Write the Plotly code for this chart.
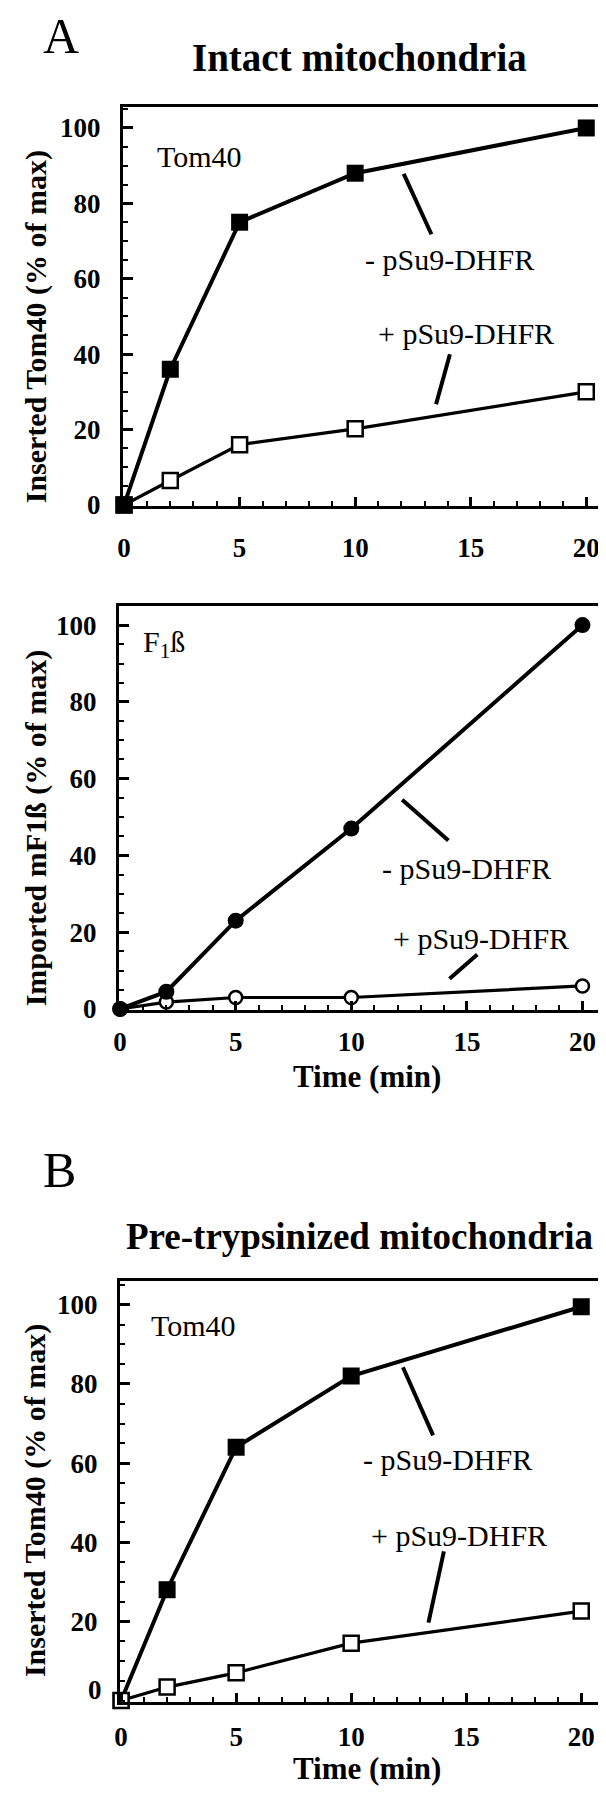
import plotly.graph_objects as go

W, H = 606, 1800
SERIF = "Liberation Serif, 'Times New Roman', Times, serif"
INK = "#000000"

# время инкубации, мин
time_min = [0, 2, 5, 10, 20]

# A: интактные митохондрии
tom40_intact_minus = [0, 36, 75, 88, 100]
tom40_intact_plus = [0, 6.5, 16, 20.2, 30]
f1b_minus = [0, 4.5, 23, 47, 100]
f1b_plus = [0, 1.8, 3, 3, 6]

# B: предобработка трипсином
tom40_tryp_minus = [0, 28, 64, 82, 99.5]
tom40_tryp_plus = [0, 3.4, 7, 14.5, 22.6]

y_tick_vals = [0, 20, 40, 60, 80, 100]
x_tick_vals = [0, 5, 10, 15, 20]

MINUS = "- pSu9-DHFR"
PLUS = "+ pSu9-DHFR"

# рамки панелей в пикселях: (left, right, top, bottom)
PANELS = [
    dict(box=(110, 599, 100, 502), xr=[-0.05, 20.9], yr=[-0.3, 105.5],
         minus=tom40_intact_minus, plus=tom40_intact_plus, sym="square",
         plus_below=True, tag="Tom40", tag_xy=(1.35, 92.5),
         minus_xy=(14.1, 65), plus_xy=(14.8, 45.6),
         minus_lead=((12.1, 87.8), (13.3, 71.8)),
         plus_lead=((14.1, 40), (13.5, 26.7)),
         ytitle="Inserted Tom40 (% of max)", ytitle_y=321,
         xtitle_y=None, xstand=16, hide_y0=False),
    dict(box=(106, 594, 603, 1010), xr=[-0.05, 20.85], yr=[-0.3, 104.9],
         minus=f1b_minus, plus=f1b_plus, sym="circle",
         plus_below=True, tag="F<sub>1</sub>ß", tag_xy=(0.9, 95),
         minus_xy=(15.0, 36.7), plus_xy=(15.6, 18.3),
         minus_lead=((12.2, 54.5), (14.2, 43.9)),
         plus_lead=((15.45, 14.2), (14.25, 7.9)),
         ytitle="Imported mF1ß (% of max)", ytitle_y=826,
         xtitle_y=1077, xstand=5, hide_y0=False),
    dict(box=(107, 595, 1283, 1707), xr=[-0.05, 20.95], yr=[-0.3, 106],
         minus=tom40_tryp_minus, plus=tom40_tryp_plus, sym="square",
         plus_below=False, tag="Tom40", tag_xy=(1.2, 94.7),
         minus_xy=(14.2, 60.9), plus_xy=(14.7, 41.6),
         minus_lead=((12.25, 84.2), (13.56, 67.0)),
         plus_lead=((14.03, 37.7), (13.36, 19.7)),
         ytitle="Inserted Tom40 (% of max)", ytitle_y=1504,
         xtitle_y=1774, xstand=9, hide_y0=True),
]


def fx(px):
    return px / W


def fy(py):
    return 1 - py / H


fig = go.Figure()
annotations, shapes = [], []
tick_font = dict(family=SERIF, size=27, color=INK, weight="bold")
label_font = dict(family=SERIF, size=30, color=INK)

for i, p in enumerate(PANELS, start=1):
    xa, ya = f"x{i}", f"y{i}"
    left, right, top, bottom = p["box"]

    def add_series(vals, filled):
        if p["sym"] == "square":
            size = 17 if filled else 15
        else:
            size = 16 if filled else 13
        fig.add_trace(go.Scatter(
            x=time_min, y=vals, xaxis=xa, yaxis=ya, mode="lines+markers",
            line=dict(color=INK, width=4 if filled else 3.2),
            marker=dict(symbol=p["sym"], size=size,
                        color=INK if filled else "white",
                        line=dict(color=INK, width=0 if filled else 2.5)),
            cliponaxis=False, showlegend=False, hoverinfo="skip"))

    if p["plus_below"]:
        add_series(p["plus"], False)
        add_series(p["minus"], True)
    else:
        add_series(p["minus"], True)
        add_series(p["plus"], False)

    # в панели B подпись «0» поднята над осью — рисуем её отдельно
    yvals = [v for v in y_tick_vals if not (v == 0 and p["hide_y0"])]
    fig.layout[f"xaxis{i}" if i > 1 else "xaxis"] = dict(
        domain=[fx(left), fx(right)], range=p["xr"], anchor=ya,
        showline=True, linewidth=3, linecolor=INK, mirror=True,
        ticks="inside", ticklen=9, tickwidth=2.5, tickcolor=INK,
        tickmode="array", tickvals=x_tick_vals, tickfont=tick_font,
        ticklabelstandoff=p["xstand"],
        minor=dict(tickmode="linear", tick0=0, dtick=1, ticks="inside",
                   ticklen=5, tickwidth=2, tickcolor=INK),
        showgrid=False, zeroline=False, fixedrange=True)
    fig.layout[f"yaxis{i}" if i > 1 else "yaxis"] = dict(
        domain=[fy(bottom), fy(top)], range=p["yr"], anchor=xa,
        showline=True, linewidth=3, linecolor=INK, mirror=True,
        ticks="inside", ticklen=10, tickwidth=2.5, tickcolor=INK,
        tickmode="array", tickvals=yvals,
        tickfont=tick_font, ticklabelstandoff=14,
        minor=dict(tickmode="linear", tick0=0, dtick=5, ticks="inside",
                   ticklen=5, tickwidth=2, tickcolor=INK),
        showgrid=False, zeroline=False, fixedrange=True)

    if p["hide_y0"]:
        annotations.append(dict(text="<b>0</b>", x=fx(left) - 16 / W, y=fy(bottom - 12),
                                xref="paper", yref="paper", xanchor="right", yanchor="middle",
                                showarrow=False, font=tick_font))

    # подписи внутри графика
    annotations.append(dict(text=p["tag"], x=p["tag_xy"][0], y=p["tag_xy"][1],
                            xref=xa, yref=ya, xanchor="left", yanchor="middle",
                            showarrow=False, font=label_font))
    for txt, xy in ((MINUS, p["minus_xy"]), (PLUS, p["plus_xy"])):
        annotations.append(dict(text=txt, x=xy[0], y=xy[1], xref=xa, yref=ya,
                                xanchor="center", yanchor="middle",
                                showarrow=False, font=label_font))
    for (x0, y0), (x1, y1) in (p["minus_lead"], p["plus_lead"]):
        shapes.append(dict(type="line", xref=xa, yref=ya, x0=x0, y0=y0, x1=x1, y1=y1,
                           line=dict(color=INK, width=4)))

    annotations.append(dict(text=f"<b>{p['ytitle']}</b>", x=fx(22), y=fy(p["ytitle_y"]),
                            xref="paper", yref="paper", textangle=-90,
                            xanchor="center", yanchor="middle", showarrow=False,
                            font=dict(family=SERIF, size=30, color=INK)))
    if p["xtitle_y"]:
        annotations.append(dict(text="<b>Time (min)</b>", x=fx(357), y=fy(p["xtitle_y"]),
                                xref="paper", yref="paper", xanchor="center",
                                yanchor="middle", showarrow=False,
                                font=dict(family=SERIF, size=31, color=INK)))

# буквы панелей и заголовки
for txt, px, py in (("A", 27, 28), ("B", 27, 1171)):
    annotations.append(dict(text=txt, x=fx(px), y=fy(py), xref="paper", yref="paper",
                            xanchor="left", yanchor="middle", showarrow=False,
                            font=dict(family=SERIF, size=50, color=INK)))
for txt, py, size in (("Intact mitochondria", 50, 39),
                      ("Pre-trypsinized mitochondria", 1238, 37)):
    annotations.append(dict(text=f"<b>{txt}</b>", x=fx(349), y=fy(py), xref="paper",
                            yref="paper", xanchor="center", yanchor="middle",
                            showarrow=False, font=dict(family=SERIF, size=size, color=INK)))

fig.update_layout(width=W, height=H, autosize=False,
                  margin=dict(l=0, r=0, t=0, b=0),
                  paper_bgcolor="white", plot_bgcolor="white",
                  annotations=annotations, shapes=shapes,
                  font=dict(family=SERIF, color=INK))

fig.write_html("out.html")
